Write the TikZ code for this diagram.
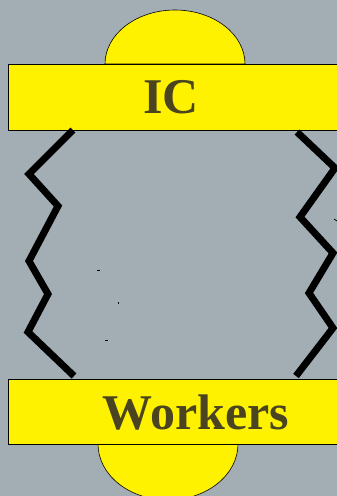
\documentclass[tikz,border=0pt]{standalone}
\usepackage{fontspec}
\setmainfont{Liberation Serif}
\definecolor{bgc}{RGB}{163,174,180}
\definecolor{txtc}{RGB}{74,69,32}
\begin{document}
\begin{tikzpicture}[x=1pt,y=-1pt,
  panel/.style={draw=black,line width=0.6pt,fill=yellow},
  label/.style={font=\bfseries\fontsize{50}{50}\selectfont,text=txtc,anchor=base,inner sep=0pt},
  zig/.style={line width=7pt,line join=miter,black},
  speck/.style={line width=0.8pt,black}]
\useasboundingbox (0,0) rectangle (337,496);
\clip (0,0) rectangle (337,496);
\fill[bgc] (0,0) rectangle (337,496);
% top part
\draw[panel] (105,64) arc[start angle=180,end angle=360,x radius=70,y radius=54] -- cycle;
\draw[panel] (8,64) rectangle (345,130);
\node[label] (ic) at (171,113) {IC};
% bottom part
\draw[panel] (98,444) arc[start angle=180,end angle=0,x radius=70,y radius=56] -- cycle;
\draw[panel] (8,379) rectangle (345,444);
\node[label] (workers) at (196,429) {Workers};
% zigzag connectors
\coordinate (l0) at (73,130);
\coordinate (l6) at (74,376);
\coordinate (r0) at (297,132);
\coordinate (r6) at (296,376);
\draw[zig] (l0) -- (29,174) -- (58,206) -- (29,261) -- (48,294) -- (28,332) -- (l6);
\draw[zig] (r0) -- (335,168) -- (300,217) -- (333,253) -- (309,293) -- (333,328) -- (r6);
% small specks
\draw[speck] (97,270) -- (100,270);
\draw[speck] (118,302) -- (118,304);
\draw[speck] (105,340) -- (108,340);
\draw[speck] (334,219) -- (337,221);
\end{tikzpicture}
\end{document}
